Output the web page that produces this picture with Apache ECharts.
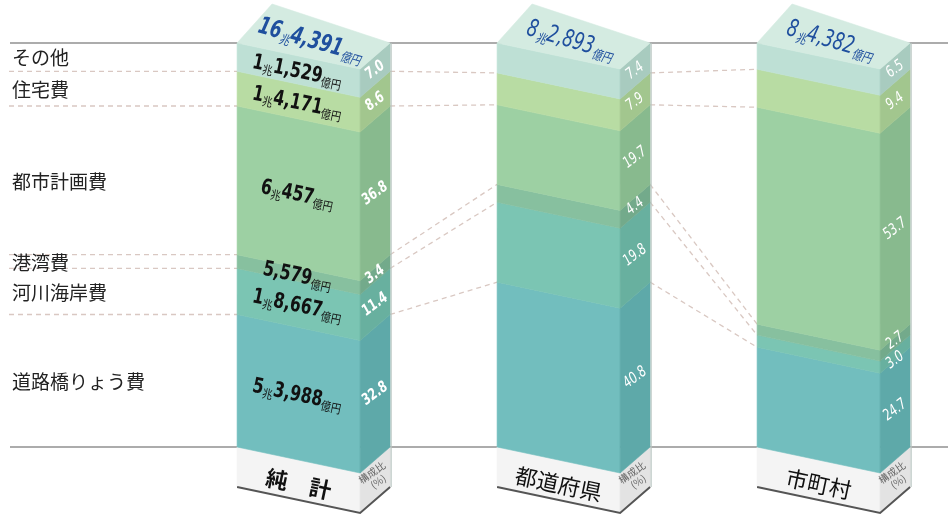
<!DOCTYPE html>
<html><head><meta charset="utf-8">
<script src="https://cdn.jsdelivr.net/npm/echarts@6/dist/echarts.min.js"></script>
<style>html,body{margin:0;padding:0;background:#fff}#c{width:948px;height:519px}</style>
</head><body><div id="c"></div>
<script>
// ---- data ----
const categories = ['純　計', '都道府県', '市町村'];
const itemNames = ['道路橋りょう費', '河川海岸費', '港湾費', '都市計画費', '住宅費', 'その他']; // bottom -> top
const shareNet  = [32.8, 11.4, 3.4, 36.8, 8.6, 7.0];   // 純計 構成比(%)
const sharePref = [40.8, 19.8, 4.4, 19.7, 7.9, 7.4];   // 都道府県 構成比(%)
const shareMuni = [24.7, 3.0, 2.7, 53.7, 9.4, 6.5];    // 市町村 構成比(%)
const amountNet = [53988, 18667, 5579, 60457, 14171, 11529]; // 純計 金額(億円)
const totals = [164391, 82893, 84382];                 // 合計(億円)
const sideCaption = ['構成比', '(%)'];

const shares = [shareNet, sharePref, shareMuni];

// ---- style / geometry constants ----
const W = 123, D = 26, SX = 30, SY = 26, HALF = 76.5, BH = 40, TBX = 35, TBY = 39;
const FRONT = ['#72bebe', '#7bc5b3', '#87c09f', '#9dd0a3', '#b8dca3', '#bee0d5'];
const SIDE  = ['#5ea9a9', '#68b09f', '#73aa8b', '#88ba8e', '#a2c68e', '#a8cbbf'];
const TOP = '#d4ebe1';
const BLUE = '#1f4f9e';
const NUMFONT = '"DejaVu Sans Condensed", "Liberation Sans Narrow", "DejaVu Sans", sans-serif';
const JPFONT = '"Noto Sans CJK JP", sans-serif';
const ANG = Math.atan2(D, W);
const SANG = Math.atan2(SY, SX);

function cumOf(arr) {
  const c = [0];
  arr.forEach(v => c.push(Math.round((c[c.length - 1] + v) * 10) / 10));
  return c;
}
function yenRich(v, big, small) {
  const cho = Math.floor(v / 10000), oku = v % 10000;
  const okuStr = oku.toLocaleString('en-US');
  return cho > 0 ? `{${big}|${cho}}{${small}|兆}{${big}|${okuStr}}{${small}|億円}` : `{${big}|${okuStr}}{${small}|億円}`;
}

function renderLinks(params, api) {
  const i = api.value(0);
  const cum = cumOf(shares[i]);
  const P = (j, v) => { const c = api.coord([j, v]); return [c[0] - HALF, c[1]]; };
  const ch = [];
  for (let k = 1; k < cum.length - 1; k++) {
    const to = P(i, cum[k]);
    let from;
    if (i === 0) from = [9, to[1]];
    else { const pc = cumOf(shares[i - 1]); const p = P(i - 1, pc[k]); from = [p[0] + W + SX, p[1] + D - SY]; }
    ch.push({ type: 'line', shape: { x1: from[0], y1: from[1], x2: to[0], y2: to[1] },
      style: { stroke: '#d9c8c2', lineWidth: 1.3, lineDash: [5, 4] } });
  }
  if (i === 0) {
    for (let k = 0; k < itemNames.length; k++) {
      const y = (P(0, cum[k])[1] + P(0, cum[k + 1])[1]) / 2 + 1;
      ch.push({ type: 'text', x: 12, y: y,
        style: { text: itemNames[k], fill: '#222', fontSize: 19, fontFamily: JPFONT, align: 'left', verticalAlign: 'middle' } });
    }
  }
  return { type: 'group', children: ch };
}

function renderBox(params, api) {
  const i = api.value(0);
  const sh = shares[i];
  const cum = cumOf(sh);
  const P = v => { const c = api.coord([i, v]); return [c[0] - HALF, c[1]]; };
  const ch = [];
  const poly = (pts, fill) => ch.push({ type: 'polygon', shape: { points: pts }, style: { fill: fill, stroke: fill, lineWidth: 0.6 } });
  // base label block
  const b = P(0);
  poly([[b[0], b[1]], [b[0] + W, b[1] + D], [b[0] + W, b[1] + D + BH], [b[0], b[1] + BH]], '#f4f4f4');
  poly([[b[0] + W, b[1] + D], [b[0] + W + SX, b[1] + D - SY], [b[0] + W + SX, b[1] + D - SY + BH], [b[0] + W, b[1] + D + BH]], '#e3e3e3');
  ch.push({ type: 'polyline', shape: { points: [[b[0], b[1] + BH], [b[0] + W, b[1] + D + BH], [b[0] + W + SX, b[1] + D - SY + BH]] },
    style: { stroke: '#555', lineWidth: 2, fill: null } });
  // segments
  for (let k = 0; k < sh.length; k++) {
    const a = P(cum[k]), c = P(cum[k + 1]);
    poly([[a[0], a[1]], [a[0] + W, a[1] + D], [c[0] + W, c[1] + D], [c[0], c[1]]], FRONT[k]);
    poly([[a[0] + W, a[1] + D], [a[0] + W + SX, a[1] + D - SY], [c[0] + W + SX, c[1] + D - SY], [c[0] + W, c[1] + D]], SIDE[k]);
  }
  // top face
  const t = P(100);
  const topPts = [[t[0], t[1]], [t[0] + W, t[1] + D], [t[0] + W + SX, t[1] + D - SY], [t[0] + TBX, t[1] - TBY]];
  poly(topPts, TOP);
  // right back edge shade
  ch.push({ type: 'line', shape: { x1: t[0] + W + SX + 1, y1: t[1] + D - SY, x2: b[0] + W + SX + 1, y2: b[1] + D - SY + BH },
    style: { stroke: '#b8c4c0', lineWidth: 1.2 } });
  // side value labels
  for (let k = 0; k < sh.length; k++) {
    const a = P(cum[k]), c = P(cum[k + 1]);
    let y = (a[1] + c[1]) / 2 + D - SY / 2;
    if (sh[k] < 3.5 && k + 1 < sh.length && sh[k + 1] < 3.5) y += 6;
    else if (sh[k] < 3.5 && k > 0 && sh[k - 1] < 3.5) y -= 2;
    ch.push({ type: 'text', x: a[0] + W + SX / 2, y: y, rotation: SANG * 0.9, scaleX: 0.9, scaleY: 1.1,
      style: { text: sh[k].toFixed(1), fill: '#fff', fontSize: 14, fontFamily: NUMFONT,
        fontWeight: i === 0 ? 'bold' : 'normal', fontStyle: 'italic', align: 'center', verticalAlign: 'middle' } });
  }
  // front amount labels (純計 only)
  if (i === 0) {
    for (let k = 0; k < amountNet.length; k++) {
      const a = P(cum[k]), c = P(cum[k + 1]);
      const y = (a[1] + c[1]) / 2 + D / 2;
      ch.push({ type: 'text', x: a[0] + W / 2 - 1, y: y, rotation: -ANG, scaleX: 0.92, scaleY: 1.12,
        style: { text: yenRich(amountNet[k], 'n', 'u'), fill: '#111', align: 'center', verticalAlign: 'middle',
          rich: {
            n: { fontSize: 19, fontWeight: 'bold', fontFamily: NUMFONT, fill: '#111', verticalAlign: 'bottom', lineHeight: 22 },
            u: { fontSize: 11, fontFamily: JPFONT, fill: '#111', verticalAlign: 'bottom', lineHeight: 18 }
          } } });
    }
  }
  // top total label
  const tcx = topPts.reduce((s, p) => s + p[0], 0) / 4 - 4;
  const tcy = topPts.reduce((s, p) => s + p[1], 0) / 4 - 1;
  ch.push({ type: 'text', x: tcx, y: tcy, rotation: -0.28, scaleX: 0.85, scaleY: 1.1,
    style: { text: yenRich(totals[i], 'n', 'u'), fill: BLUE, align: 'center', verticalAlign: 'middle',
      rich: {
        n: { fontSize: 22, fontWeight: i === 0 ? 'bold' : 'normal', fontStyle: 'italic', fontFamily: NUMFONT, fill: BLUE, verticalAlign: 'bottom', lineHeight: 26 },
        u: { fontSize: 12, fontStyle: 'italic', fontFamily: JPFONT, fill: BLUE, verticalAlign: 'bottom', lineHeight: 20 }
      } } });
  // base block labels
  ch.push({ type: 'text', x: b[0] + W / 2, y: b[1] + BH / 2 + D / 2 + 4, rotation: -ANG,
    style: { text: categories[i], fill: '#111', fontSize: 22, fontWeight: i === 0 ? 'bold' : 'normal',
      fontFamily: JPFONT, align: 'center', verticalAlign: 'middle' } });
  ch.push({ type: 'text', x: b[0] + W + SX / 2, y: b[1] + D / 2 + BH / 2 - 3, rotation: SANG * 0.85,
    style: { text: sideCaption.join('\n'), fill: '#666', fontSize: 10, lineHeight: 11, fontFamily: JPFONT,
      align: 'center', verticalAlign: 'middle' } });
  return { type: 'group', children: ch };
}

const chart = echarts.init(document.getElementById('c'), null, { renderer: 'canvas' });
chart.setOption({
  backgroundColor: '#fff',
  animation: false,
  grid: { left: 10, right: 0, top: 43, bottom: 72 },
  xAxis: { type: 'value', min: -1.1677, max: 2.44, show: false },
  yAxis: { type: 'value', min: 0, max: 100, interval: 100,
    axisLabel: { show: false }, axisLine: { show: false }, axisTick: { show: false },
    splitLine: { show: true, lineStyle: { color: '#acacac', width: 2 } } },
  series: [
    { type: 'custom', z: 1, renderItem: renderLinks, data: categories.map((c, i) => [i]), encode: { x: 0 }, silent: true },
    { type: 'custom', z: 2, renderItem: renderBox, data: categories.map((c, i) => [i]), encode: { x: 0 }, silent: true }
  ]
});
</script></body></html>
